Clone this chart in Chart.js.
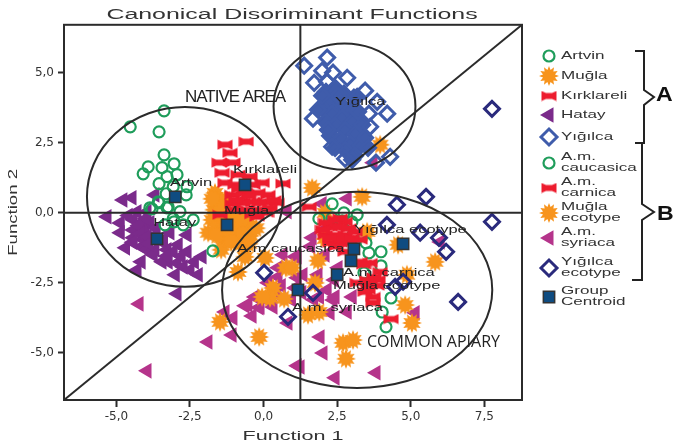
<!DOCTYPE html>
<html>
<head>
<meta charset="utf-8">
<style>
  html, body { margin: 0; padding: 0; background: #fff; }
  canvas { display: block; }
</style>
<script src="https://cdn.jsdelivr.net/npm/chart.js@4"></script>
</head>
<body>
<canvas id="chart" width="673" height="444"></canvas>
<script>
// values, [function 1, function 2]
const artvin = [[-3.38,3.64],[-4.53,3.07],[-3.55,2.89],[-3.38,2.07],[-3.92,1.64],[-4.09,1.39],[-3.45,1.61],[-3.04,1.75],
  [-2.94,1.36],[-3.28,1.29],[-3.55,1.04],[-3.07,0.93],[-2.6,0.93],[-3.31,0.68],[-2.63,0.64],[-3.55,0.36],[-3.79,0.14],
  [-3.28,0.18],[-2.84,0.04],[-3.07,-0.21],[-2.39,-0.25],[-3.04,-0.32],[-2.73,-0.43],[-3.35,-0.43],[-1.72,-1.36],
  [-3.58,0.39],[-3.86,0.18],[-3.24,0.21]];
const mugla = [[-1.65,0.71],[-1.55,0.39],[-1.68,0.11],[-1.41,-0.04],[-0.97,-0.07],[-1.75,-0.25],[-1.41,-0.46],[-0.87,-0.54],
  [-0.53,-0.32],[-1.88,-0.71],[-1.41,-0.89],[-0.92,-0.89],[-0.46,-0.82],[-1.44,-1.32],[-0.63,-1.57],[-1.2,-0.2],[-1.6,-0.55],
  [-1.31,0.46],[-1.14,-0.07],[-0.75,-0.25],[-1.6,-0.8],[-1.15,-0.65],[-0.7,-0.75],[-0.25,-0.55],[-1.45,0.2],[-1.1,-1.05],
  [-0.7,-1.15],[-1.75,0.5],[-1.25,-0.35],[-0.5,-1.1]];
const kirklareli = [[-0.59,2.54],[-1.31,2.43],[-1.14,2.14],[-1.51,1.79],[-1.04,1.79],[-1.41,1.43],[-0.87,1.36],[-1.31,1.07],
  [-0.46,1.29],[-0.05,1.07],[0.66,1.04],[-0.97,1.0],[-1.07,0.64],[-0.63,0.71],[-0.19,0.71],[0.15,0.64],[-0.8,0.39],
  [-0.36,0.39],[0.05,0.39],[0.46,0.36],[-1.07,0.32],[-0.56,0.11],[-0.19,0.11],[0.22,0.18],[-1.48,-0.07],[-1.04,0.11],
  [-0.22,-0.14],[-0.7,0.36],[-0.36,1.0],[-0.5,0.6],[-0.15,0.35],[-0.95,0.45],[0.1,0.0],[0.35,0.45],[-0.4,-0.05],[-0.85,0.85]];
const hatay = [[-4.47,0.54],[-4.78,0.46],[-3.69,0.64],[-5.32,-0.14],[-4.87,-0.36],[-4.3,0.04],[-3.96,0.04],[-4.43,-0.25],
  [-4.11,-0.32],[-4.87,-0.71],[-4.43,-0.61],[-4.02,-0.61],[-4.43,-0.89],[-4.69,-1.25],[-4.16,-1.21],[-3.96,-1.32],
  [-3.69,-1.32],[-3.28,-1.32],[-3.45,-1.04],[-2.6,-0.79],[-2.9,-1.14],[-3.07,-1.39],[-2.6,-1.39],[-3.24,-1.75],
  [-2.94,-1.79],[-2.73,-1.93],[-2.09,-1.57],[-2.5,-2.04],[-3.0,-2.21],[-2.22,-2.21],[-4.16,-1.75],[-4.3,-2.04],
  [-3.45,-1.75],[-3.18,-0.71],[-3.86,-0.36],[-2.94,-2.89],[-3.7,-0.8],[-4.1,-0.95],[-4.6,-0.1],[-4.25,-0.45],[-4.2,-0.75],
  [-3.95,-0.85],[-4.0,-0.2],[-3.65,-0.55],[-3.4,-0.95],[-3.3,-1.55],[-3.75,-1.5],[-4.45,-1.05],[-3.9,-1.1],[-2.8,-1.55],[-2.35,-1.75]];
// scattered, open Yığılca samples
const yigilca = [[1.38,5.25],[2.16,5.54],[1.99,5.07],[2.36,5.0],[1.72,4.64],[2.84,4.82],[2.16,4.68],[3.45,4.36],[3.18,4.14],
  [3.86,3.96],[1.68,3.36],[4.2,3.54],[3.58,3.54],[3.62,3.07],[2.33,2.36],[2.77,1.93],[4.3,2.0],[3.82,1.79]];
// Yığılca samples so overplotted that they read as a solid mass
const yigilcaCore = [[2.12,4.32],[2.43,4.46],[2.73,4.25],[2.26,3.96],[2.6,3.89],[2.94,3.68],[1.99,3.75],[2.33,3.54],[2.67,3.39],[3.01,3.25],
  [2.09,3.25],[2.43,3.11],[2.77,2.96],[3.11,2.82],[2.26,2.75],[2.6,2.61],[2.94,2.46],[3.28,2.39],[2.77,2.25],[3.11,2.04],
  [2.43,2.32],[2.19,2.96],[1.85,3.68],[3.35,3.14],[3.45,2.68],[3.21,3.61],[2.53,4.18],[3.07,4.11],[1.99,4.18],
  [3.55,2.32],[3.01,1.89]];
const caucasica = [[2.33,0.32],[1.88,-0.21],[2.33,-0.18],[2.73,0],[2.67,-0.29],[3.18,-0.07],[3.0,-0.32],[3.48,-1.07],
  [3.58,-1.43],[3.99,-1.39],[3.99,-1.89],[3.41,-2.14],[4.33,-3.04],[4.03,-3.54],[4.16,-4.07],[3.04,-0.79]];
const carnica = [[2.26,-0.5],[2.6,-0.5],[2.09,-0.79],[2.43,-0.79],[2.77,-0.79],[3.11,-0.68],[2.26,-1.07],[2.6,-1.07],[2.94,-1.07],
  [2.43,-0.25],[2.77,-0.32],[3.28,-0.96],[2.77,-1.39],[3.28,-1.75],[3.62,-1.79],[3.89,-2.39],[3.62,-2.57],[3.18,-2.5],
  [3.72,-3.0],[3.72,-3.21],[4.33,-3.79],[3.45,-2.82],[3.96,-2.11],[1.55,0.21],[2.43,-0.5],[2.1,-0.35],[2.9,-0.55],[2.6,-0.95],
  [2.25,-0.9],[2.45,-1.2],[3.0,-0.9],[2.6,-0.2],[2.0,-0.6],[3.4,-1.85],[3.75,-2.3],[3.5,-2.4],[3.55,-2.75],[3.85,-2.6]];
const muglaEcotype = [[-0.87,-2.11],[0.05,-1.61],[0.76,-1.96],[0.32,-2.68],[0.22,-3.04],[0.7,-3.07],[-1.48,-3.89],[-0.15,-4.43],
  [1.85,-1.71],[1.75,-2.5],[1.51,-3.64],[1.89,-3.54],[2.09,-0.93],[3.52,-0.68],[4.57,-1.14],[5.83,-1.75],[4.87,-2.21],
  [4.81,-3.29],[5.04,-3.93],[2.7,-4.64],[3.04,-4.54],[2.8,-5.21],[0.97,-1.96],[1.65,0.89],[3.35,0.57],[2.09,0],[3.96,2.43],
  [-0.05,-3.0]];
const syriaca = [[-4.23,-3.25],[-3.96,-5.64],[-1.89,-4.61],[-1.07,-4.36],[-1.04,-3.75],[-1.31,-3.54],[-0.63,-3.32],[-0.39,-3.68],
  [-0.15,-3.39],[-0.19,-3.04],[0.15,-2.5],[0.49,-2.29],[1.14,-1.57],[0.66,-1.5],[1.14,-2.32],[0.32,-3.36],[0.83,-3.93],
  [1.14,-5.46],[1.92,-4.43],[2.02,-5.0],[1.24,-5.5],[2.43,-5.89],[3.82,-5.71],[5.15,-3.57],[6.0,-1.04],[1.65,-0.89],
  [3.01,-3.0],[2.26,-3.57],[2.84,-3.54],[2.36,-3.11],[2.16,-2.75],[1.85,-2.21],[1.34,-2.21],[1.07,-1.57],[2.09,-1.5],
  [2.53,-1.96],[1.99,0.32],[2.84,0.5],[3.72,1.79],[-0.53,-3.29],[-0.12,-3.36],[0.49,-1.96],[1.07,-2.68],[2.43,-3.0],[0.8,0.04],
  [0.9,-2.0],[0.6,-2.6],[0.95,-3.1],[0.45,-2.9],[1.6,-1.2],[1.3,-2.85],[1.9,-3.0],[2.05,-0.6],[2.4,-2.4],[1.7,-3.1],[-0.3,-3.0],[0.1,-3.1]];
const yigilcaEcotype = [[7.76,3.71],[5.52,0.57],[4.53,0.29],[4.19,-0.43],[7.76,-0.32],[5.32,-0.71],[5.96,-0.89],[6.2,-1.39],
  [4.47,-2.64],[4.74,-2.46],[6.61,-3.18],[0.02,-2.14],[1.68,-2.86],[0.83,-3.71]];
const centroids = [[-3.0,0.57],[-0.63,1.0],[-1.24,-0.43],[-3.62,-0.93],[3.07,-1.29],[2.97,-1.71],[2.5,-2.21],[1.17,-2.75],[4.74,-1.11]];

const xTicks = [-5, -2.5, 0, 2.5, 5, 7.5];
const yTicks = [-5, -2.5, 0, 2.5, 5];
const xMin = -6.78, xMax = 8.78, yMin = -6.68, yMax = 6.71;
const xDivide = 1.25;

// the three hand-drawn rings: centre x, centre y, radius x, radius y
const rings = [[-2.67,0.57,3.33,3.21],[2.75,3.79,2.41,2.25],[3.18,-2.75,4.59,3.5]];

const groupLabels = ['Artvin','Kırklareli','Muğla','Hatay','Yığılca','A.m caucasica','Yığılca ecotype','A.m. carnica','Muğla ecotype','A.m. syriaca'];
const groupLabelX = [-3.18,-1.04,-1.34,-3.75,2.43,-0.9,3.07,2.7,2.36,0.97];
const groupLabelY = [1.07,1.54,0.07,-0.36,3.96,-1.29,-0.61,-2.14,-2.61,-3.39];

const GREEN = '#1f9d5b', ORANGE = '#f7941d', RED = '#ed1c2e', PURPLE = '#7b2b8b', BLUE = '#3f5cab',
      MAGENTA = '#b5348b', NAVY = '#2a2a7c', CENTROID = '#0f4c81', INK = '#2b2b2b';

function sprite(w, h, pts, color) {
  const c = document.createElement('canvas');
  c.width = w; c.height = h;
  const g = c.getContext('2d');
  g.translate(w / 2, h / 2);
  g.fillStyle = color;
  g.beginPath();
  pts.forEach((p, i) => i ? g.lineTo(p[0], p[1]) : g.moveTo(p[0], p[1]));
  g.closePath();
  g.fill();
  return c;
}

const starPts = [];
for (let i = 0; i < 24; i++) {
  const r = i % 2 ? 6.2 : 10, a = i * Math.PI / 12;
  starPts.push([r * Math.sin(a), -r * Math.cos(a)]);
}
const starSprite = sprite(22, 22, starPts, ORANGE);
const bowSprite = sprite(16, 11, [[-7.5,-5],[-3,-3],[3,-3],[7.5,-5],[7.5,5],[3,3],[-3,3],[-7.5,5]], RED);

const styleCircle = { pointStyle: 'circle', pointRadius: 5.5, borderWidth: 2.2, backgroundColor: 'transparent', pointRotation: 0 };
const styleDiamond = { pointStyle: 'rectRot', pointRadius: 7.5, borderWidth: 3, backgroundColor: 'transparent', pointRotation: 0 };
const styleTri = { pointStyle: 'triangle', pointRadius: 9, borderWidth: 0, pointRotation: -90 };

function markers(data, look, order) {
  return Object.assign({ data: data, order: order, showLine: false, pointBorderWidth: look.borderWidth,
    pointBackgroundColor: look.backgroundColor, pointBorderColor: look.borderColor }, look);
}

const datasets = [
  markers(syriaca, Object.assign({}, styleTri, { backgroundColor: MAGENTA, borderColor: MAGENTA }), 20),
  markers(hatay, Object.assign({}, styleTri, { backgroundColor: PURPLE, borderColor: PURPLE }), 19),
  markers(mugla, { pointStyle: starSprite, pointRadius: 10, borderWidth: 0 }, 18),
  markers(muglaEcotype, { pointStyle: starSprite, pointRadius: 10, borderWidth: 0 }, 17),
  markers(artvin, Object.assign({}, styleCircle, { borderColor: GREEN }), 16),
  markers(caucasica, Object.assign({}, styleCircle, { borderColor: GREEN }), 15),
  markers(kirklareli, { pointStyle: bowSprite, pointRadius: 8, borderWidth: 0 }, 14),
  markers(carnica, { pointStyle: bowSprite, pointRadius: 8, borderWidth: 0 }, 13),
  markers(yigilca, Object.assign({}, styleDiamond, { borderColor: BLUE }), 12),
  markers(yigilcaCore, Object.assign({}, styleDiamond, { backgroundColor: BLUE, borderColor: BLUE }), 12),
  markers(yigilcaEcotype, Object.assign({}, styleDiamond, { borderColor: NAVY }), 11),
  // reference lines
  { data: [[xMin,0],[xMax,0]], showLine: true, pointRadius: 0, borderColor: INK, borderWidth: 2, order: 5 },
  { data: [[xDivide,yMin],[xDivide,yMax]], showLine: true, pointRadius: 0, borderColor: INK, borderWidth: 2, order: 5 },
  { data: [[xMin,yMin],[xMax,yMax]], showLine: true, pointRadius: 0, borderColor: INK, borderWidth: 2, order: 5 },
  markers(centroids, { pointStyle: 'rect', pointRadius: 8, borderWidth: 1.5, backgroundColor: CENTROID, borderColor: '#333' }, 1)
];

// text is stretched wide in the original figure
function wideText(ctx, text, x, y, font, sx, color) {
  ctx.save();
  ctx.translate(x, y);
  ctx.scale(sx, 1);
  ctx.font = font;
  ctx.fillStyle = color || '#222';
  ctx.textBaseline = 'middle';
  ctx.textAlign = 'left';
  ctx.fillText(text, 0, 0);
  ctx.restore();
}

const legendRows = [
  { y: 56, lines: ['Artvin'], look: { pointStyle: 'circle', radius: 5.5, borderWidth: 2.2 }, stroke: GREEN },
  { y: 76, lines: ['Muğla'], look: { pointStyle: starSprite, radius: 10 } },
  { y: 96, lines: ['Kırklareli'], look: { pointStyle: bowSprite, radius: 8 } },
  { y: 115, lines: ['Hatay'], look: { pointStyle: 'triangle', rotation: -90, radius: 9 }, fill: PURPLE },
  { y: 137, lines: ['Yığılca'], look: { pointStyle: 'rectRot', radius: 8, borderWidth: 3 }, stroke: BLUE },
  { y: 163, lines: ['A.m.', 'caucasica'], look: { pointStyle: 'circle', radius: 5.5, borderWidth: 2.2 }, stroke: GREEN },
  { y: 188, lines: ['A.m.', 'carnica'], look: { pointStyle: bowSprite, radius: 8 } },
  { y: 213, lines: ['Muğla', 'ecotype'], look: { pointStyle: starSprite, radius: 10 } },
  { y: 238, lines: ['A.m.', 'syriaca'], look: { pointStyle: 'triangle', rotation: -90, radius: 9 }, fill: MAGENTA },
  { y: 268, lines: ['Yığılca', 'ecotype'], look: { pointStyle: 'rectRot', radius: 8, borderWidth: 3 }, stroke: NAVY },
  { y: 297, lines: ['Group', 'Centroid'], look: { pointStyle: 'rect', radius: 8, borderWidth: 1.5 }, fill: CENTROID, stroke: '#333' }
];

const figurePlugin = {
  id: 'figure',
  afterLayout(chart) {
    // stretch the library's own titles the way the original is stretched
    const title = chart.titleBlock, xs = chart.scales.x, ys = chart.scales.y;
    if (!title._wide) {
      const draw = title.draw;
      title.draw = function () {
        const ctx = this.ctx, cx = (this.left + this.right) / 2;
        ctx.save();
        ctx.translate(292, 0); ctx.scale(1.78, 1); ctx.translate(-cx, 0);
        draw.call(this);
        ctx.restore();
      };
      title._wide = true;
    }
    if (!xs._wide) {
      const drawX = xs.drawTitle, drawY = ys.drawTitle;
      xs.drawTitle = function () {
        const ctx = this.ctx, cx = (this.left + this.right) / 2;
        ctx.save();
        ctx.translate(cx, 0); ctx.scale(1.8, 1); ctx.translate(-cx, 0);
        drawX.call(this);
        ctx.restore();
      };
      ys.drawTitle = function () {
        const ctx = this.ctx, cy = (this.top + this.bottom) / 2;
        ctx.save();
        ctx.translate(0, cy); ctx.scale(1, 1.55); ctx.translate(0, -cy);
        drawY.call(this);
        ctx.restore();
      };
      xs._wide = true;
    }
  },
  afterDatasetsDraw(chart) {
    const ctx = chart.ctx, xs = chart.scales.x, ys = chart.scales.y, area = chart.chartArea;
    ctx.save();
    ctx.strokeStyle = INK;
    ctx.lineWidth = 2;
    ctx.strokeRect(area.left, area.top, area.right - area.left, area.bottom - area.top);
    rings.forEach(r => {
      const cx = xs.getPixelForValue(r[0]), cy = ys.getPixelForValue(r[1]);
      ctx.beginPath();
      ctx.ellipse(cx, cy, Math.abs(xs.getPixelForValue(r[0] + r[2]) - cx), Math.abs(ys.getPixelForValue(r[1] + r[3]) - cy), 0, 0, Math.PI * 2);
      ctx.stroke();
    });
    groupLabels.forEach((t, i) => {
      wideText(ctx, t, xs.getPixelForValue(groupLabelX[i]), ys.getPixelForValue(groupLabelY[i]), '11px "Liberation Sans"', 1.5);
    });
    ctx.letterSpacing = '-1px';
    wideText(ctx, 'NATIVE AREA', xs.getPixelForValue(-2.67), ys.getPixelForValue(4.14), '17px "Liberation Sans"', 1);
    ctx.letterSpacing = '0px';
    wideText(ctx, 'COMMON APIARY', xs.getPixelForValue(3.51), ys.getPixelForValue(-4.64), '16px "Open Sans"', 1);

    // legend
    legendRows.forEach(row => {
      ctx.save();
      ctx.fillStyle = row.fill || 'transparent';
      ctx.strokeStyle = row.stroke || 'transparent';
      ctx.lineWidth = row.look.borderWidth || 0;
      Chart.helpers.drawPoint(ctx, Object.assign({ rotation: 0 }, row.look), 549, row.y);
      ctx.restore();
      row.lines.forEach((t, i) => {
        const y = row.lines.length === 1 ? row.y : row.y - 6 + i * 11;
        wideText(ctx, t, 561, y, '11px "Liberation Sans"', 1.55, '#333');
      });
    });

    // braces
    ctx.strokeStyle = '#222';
    ctx.lineWidth = 2;
    ctx.beginPath();
    ctx.moveTo(635, 51); ctx.lineTo(644, 51); ctx.lineTo(644, 90); ctx.lineTo(654, 97); ctx.lineTo(644, 105);
    ctx.lineTo(644, 143); ctx.lineTo(635, 143);
    ctx.moveTo(642, 144); ctx.lineTo(642, 204); ctx.lineTo(654, 212); ctx.lineTo(642, 220);
    ctx.lineTo(642, 280); ctx.lineTo(632, 280);
    ctx.stroke();
    ctx.restore();
    wideText(ctx, 'A', 656, 95, 'bold 21px "Liberation Sans"', 1.1, '#111');
    wideText(ctx, 'B', 657, 214, 'bold 21px "Liberation Sans"', 1.1, '#111');
  }
};

function tickText(v) {
  return Number(v).toFixed(1).replace('.', ',');
}

new Chart(document.getElementById('chart'), {
  type: 'scatter',
  data: { datasets: datasets },
  plugins: [figurePlugin],
  options: {
    responsive: false,
    animation: false,
    layout: { padding: { right: 151, top: 0, left: 0, bottom: 0 } },
    plugins: {
      legend: { display: false },
      tooltip: { enabled: false },
      title: {
        display: true,
        text: 'Canonical Disoriminant Functions',
        color: '#333',
        font: { family: '"Liberation Sans"', size: 14, weight: 'normal' },
        padding: { top: 7, bottom: 1 }
      }
    },
    scales: {
      x: {
        type: 'linear', min: xMin, max: xMax,
        afterBuildTicks(s) { s.ticks = xTicks.map(v => ({ value: v })); },
        afterFit(s) { s.height = 44; },
        grid: { drawOnChartArea: false, tickLength: 7, tickWidth: 2, tickColor: INK },
        border: { color: INK, width: 2 },
        ticks: { callback: tickText, color: '#333', padding: 3, maxRotation: 0, font: { family: '"DejaVu Sans"', size: 12 } },
        title: { display: true, text: 'Function 1', color: '#333', padding: { top: 4, bottom: 0 }, font: { family: '"Liberation Sans"', size: 12 } }
      },
      y: {
        type: 'linear', min: yMin, max: yMax,
        afterBuildTicks(s) { s.ticks = yTicks.map(v => ({ value: v })); },
        afterFit(s) { s.width = 64; },
        grid: { drawOnChartArea: false, tickLength: 6, tickWidth: 2, tickColor: INK },
        border: { color: INK, width: 2 },
        ticks: { callback: tickText, color: '#333', padding: 4, font: { family: '"DejaVu Sans"', size: 12 } },
        title: { display: true, text: 'Function 2', color: '#333', padding: { top: 6, bottom: 2 }, font: { family: '"Liberation Sans"', size: 12 } }
      }
    }
  }
});
</script>
</body>
</html>
